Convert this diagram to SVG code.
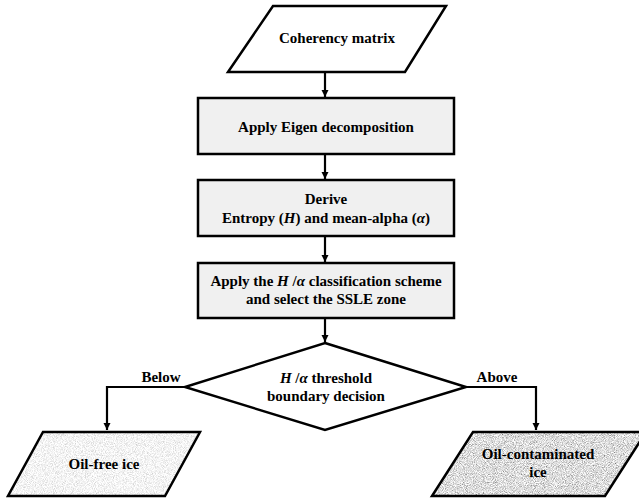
<svg xmlns="http://www.w3.org/2000/svg" width="639" height="502" viewBox="0 0 639 502">
<style>
.shape{fill:none;stroke:#000;stroke-width:2.5;stroke-linejoin:miter}
.box{fill:#f0f0f0;stroke:#000;stroke-width:2.5}
.t{font-family:"Liberation Serif","Times New Roman",serif;font-weight:bold;font-size:15px;fill:#000;text-anchor:middle}
.i{font-style:italic}
.conn{fill:none;stroke:#000;stroke-width:2.2}
</style>
<defs>
<marker id="arr" markerWidth="8" markerHeight="8" refX="7" refY="4" orient="auto" markerUnits="userSpaceOnUse">
<path d="M0,0.5 L7,4 L0,7.5 Z" fill="#000"/>
</marker>
<filter id="noiseL" x="0" y="0" width="100%" height="100%">
<feTurbulence type="fractalNoise" baseFrequency="1.1" numOctaves="2" seed="3" result="n"/>
<feColorMatrix in="n" type="matrix" values="0.8 0 0 0 0.5  0.8 0 0 0 0.5  0.8 0 0 0 0.5  0 0 0 0 1" result="g"/>
<feComposite in="g" in2="SourceGraphic" operator="in"/>
</filter>
<filter id="noiseR" x="0" y="0" width="100%" height="100%">
<feTurbulence type="fractalNoise" baseFrequency="1.1" numOctaves="2" seed="7" result="n"/>
<feColorMatrix in="n" type="matrix" values="1.4 0 0 0 0.02  1.4 0 0 0 0.02  1.4 0 0 0 0.02  0 0 0 0 1" result="g"/>
<feComposite in="g" in2="SourceGraphic" operator="in"/>
</filter>
</defs>

<g id="coherency">
<polygon class="shape" points="273,6 446,6 405,72 228,72" style="fill:#fff"/>
<text class="t" x="337" y="43">Coherency matrix</text>
</g>

<g id="eigen">
<rect class="box" x="198" y="98" width="256" height="56"/>
<text class="t" x="326" y="132">Apply Eigen decomposition</text>
</g>

<g id="derive">
<rect class="box" x="198" y="180" width="256" height="56"/>
<text class="t" x="326" y="204">Derive</text>
<text class="t" x="326" y="223">Entropy (<tspan class="i">H</tspan>) and mean-alpha (<tspan class="i">α</tspan>)</text>
</g>

<g id="classify">
<rect class="box" x="198" y="263" width="256" height="55"/>
<text class="t" x="326" y="286">Apply the <tspan class="i">H</tspan> /<tspan class="i">α</tspan> classification scheme</text>
<text class="t" x="326" y="304">and select the SSLE zone</text>
</g>

<g id="decision">
<polygon class="shape" points="325,343 466,387 325,430 185,387" style="fill:#fff"/>
<text class="t" x="326" y="383"><tspan class="i">H</tspan> /<tspan class="i">α</tspan> threshold</text>
<text class="t" x="326" y="401">boundary decision</text>
</g>

<g id="oilfree">
<polygon points="43,432 200,432 165,496 8,496" fill="#fff" filter="url(#noiseL)"/>
<polygon class="shape" points="43,432 200,432 165,496 8,496"/>
<text class="t" x="104" y="469">Oil-free ice</text>
</g>

<g id="oilcontam">
<polygon points="473,432 646,432 605,496 432,496" fill="#fff" filter="url(#noiseR)"/>
<polygon class="shape" points="473,432 646,432 605,496 432,496"/>
<text class="t" x="538" y="459">Oil-contaminated</text>
<text class="t" x="538" y="477">ice</text>
</g>

<g id="connectors">
<line class="conn" x1="325" y1="73" x2="325" y2="97" marker-end="url(#arr)"/>
<line class="conn" x1="325" y1="155" x2="325" y2="179" marker-end="url(#arr)"/>
<line class="conn" x1="325" y1="237" x2="325" y2="262" marker-end="url(#arr)"/>
<line class="conn" x1="325" y1="319" x2="325" y2="342" marker-end="url(#arr)"/>
<polyline class="conn" points="185,387 107,387 107,430" marker-end="url(#arr)"/>
<polyline class="conn" points="466,387 536,387 536,430" marker-end="url(#arr)"/>
<text class="t" x="161" y="382">Below</text>
<text class="t" x="497" y="382">Above</text>
</g>
</svg>
